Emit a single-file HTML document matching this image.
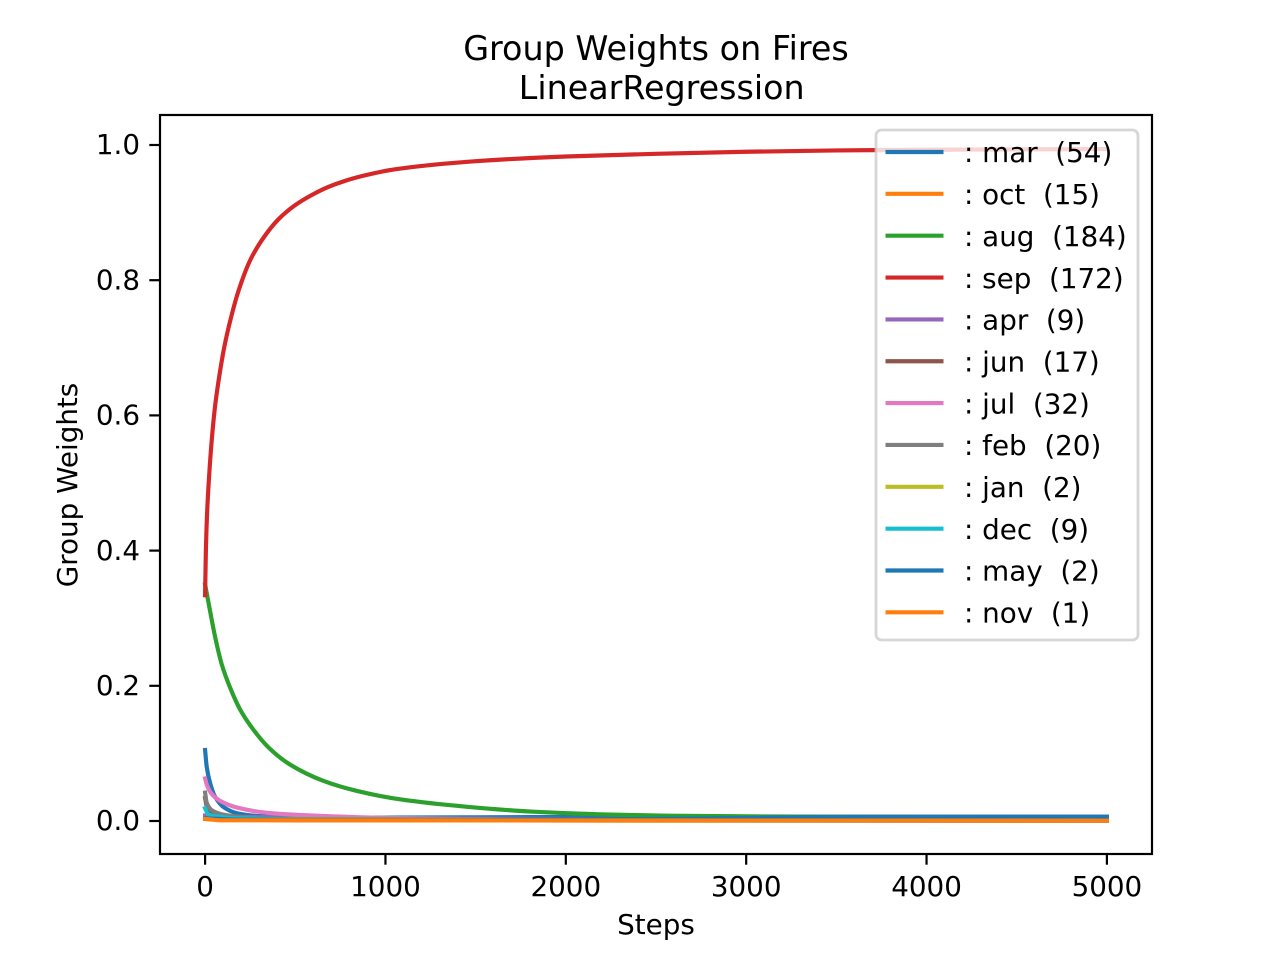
<!DOCTYPE html>
<html>
<head>
<meta charset="utf-8">
<title>Group Weights on Fires</title>
<style>
html,body{margin:0;padding:0;background:#fff;width:1280px;height:960px;overflow:hidden}
svg{display:block}
text{font-family:"DejaVu Sans","Liberation Sans",sans-serif;fill:#000;white-space:pre}
</style>
</head>
<body>
<svg id="chart" width="1280" height="960" viewBox="0 0 1280 960" xmlns="http://www.w3.org/2000/svg">
  <rect x="0" y="0" width="1280" height="960" fill="#fff"/>
  <text x="656" y="60" font-size="33.38" text-anchor="middle">Group Weights on Fires</text>
  <text x="661.7" y="99" font-size="33.33" text-anchor="middle">LinearRegression</text>
  <text x="656" y="934" font-size="27.78" text-anchor="middle">Steps</text>
  <text transform="translate(77,485) rotate(-90)" font-size="27.78" text-anchor="middle">Group Weights</text>
  <g id="series-layer"></g>
  <rect x="160" y="115" width="992" height="739" fill="none" stroke="#000" stroke-width="2.2"/>
  <g id="tick-layer"></g>
  <g id="legend-layer">
    <rect x="876" y="130" width="262" height="510" rx="5.5" ry="5.5" fill="#fff" fill-opacity="0.8" stroke="#ccc" stroke-opacity="0.8" stroke-width="2.78"/>
  </g>
</svg>
<script>
const xTicks = [0, 1000, 2000, 3000, 4000, 5000];
const yTicks = [0.0, 0.2, 0.4, 0.6, 0.8, 1.0];
const yTickLabels = ["0.0", "0.2", "0.4", "0.6", "0.8", "1.0"];

const seriesNames = ["mar", "oct", "aug", "sep", "apr", "jun", "jul", "feb", "jan", "dec", "may", "nov"];
const seriesCounts = [54, 15, 184, 172, 9, 17, 32, 20, 2, 9, 2, 1];
const seriesColors = ["#1f77b4", "#ff7f0e", "#2ca02c", "#d62728", "#9467bd", "#8c564b", "#e377c2", "#7f7f7f", "#bcbd22", "#17becf", "#1f77b4", "#ff7f0e"];

const marSteps = [0, 9, 28, 55, 111, 183, 286, 600, 1500, 2500, 5000];
const marValues = [0.105, 0.08, 0.056, 0.036, 0.019, 0.011, 0.0075, 0.0048, 0.0055, 0.0062, 0.0064];
const octSteps = [0, 100, 500, 5000];
const octValues = [0.005, 0.003, 0.002, 0.001];
const augSteps = [0, 9, 28, 55, 92, 139, 194, 268, 351, 471, 655, 842, 1081, 1452, 1818, 2190, 2561, 2927, 3298, 5000];
const augValues = [0.35, 0.337, 0.31, 0.273, 0.232, 0.197, 0.165, 0.135, 0.109, 0.0835, 0.0595, 0.0445, 0.032, 0.021, 0.0138, 0.0099, 0.0078, 0.007, 0.0065, 0.0055];
const sepSteps = [0, 4, 11, 22, 37, 55, 78, 107, 144, 185, 249, 314, 406, 499, 591, 683, 776, 868, 1053, 1500, 2000, 2500, 3000, 3500, 4000, 5000];
const sepValues = [0.334, 0.396, 0.455, 0.509, 0.564, 0.613, 0.657, 0.702, 0.745, 0.784, 0.829, 0.859, 0.89, 0.911, 0.926, 0.938, 0.947, 0.954, 0.964, 0.976, 0.983, 0.987, 0.99, 0.992, 0.993, 0.994];
const aprSteps = [0, 200, 1000, 2000, 5000];
const aprValues = [0.008, 0.006, 0.0045, 0.003, 0.002];
const junSteps = [0, 9, 37, 92, 183, 500, 5000];
const junValues = [0.034, 0.022, 0.012, 0.006, 0.003, 0.001, 0.0005];
const julSteps = [0, 9, 37, 92, 183, 332, 471, 655, 842, 1136, 2000, 5000];
const julValues = [0.063, 0.054, 0.04, 0.0285, 0.0195, 0.0125, 0.0096, 0.0074, 0.0056, 0.004, 0.0015, 0.0005];
const febSteps = [0, 9, 37, 92, 183, 300, 600, 1500, 5000];
const febValues = [0.042, 0.027, 0.016, 0.01, 0.0064, 0.004, 0.002, 0.0015, 0.001];
const janSteps = [0, 5000];
const janValues = [0.003, 0.001];
const decSteps = [0, 17, 72, 183, 500, 1000, 5000];
const decValues = [0.019, 0.01, 0.0064, 0.004, 0.002, 0.001, 0.0005];
const maySteps = [0, 200, 1500, 2500, 3000, 3400, 5000];
const mayValues = [0.004, 0.002, 0.002, 0.003, 0.0045, 0.006, 0.0064];
const novSteps = [0, 100, 5000];
const novValues = [0.003, 0.001, 0.0005];

const seriesSteps = [marSteps, octSteps, augSteps, sepSteps, aprSteps, junSteps, julSteps, febSteps, janSteps, decSteps, maySteps, novSteps];
const seriesValues = [marValues, octValues, augValues, sepValues, aprValues, junValues, julValues, febValues, janValues, decValues, mayValues, novValues];

const NS = "http://www.w3.org/2000/svg";
function xScale(step) { return 205.1 + step * 0.18036; }
function yScale(value) { return 821 - value * 676; }
function make(tag, attrs, parent) {
  const el = document.createElementNS(NS, tag);
  for (const k in attrs) el.setAttribute(k, attrs[k]);
  parent.appendChild(el);
  return el;
}
/* Monotone cubic curve through the read points, so the sparse samples draw as a smooth line. */
function smoothPath(xs, ys) {
  const n = xs.length;
  const d = [];
  const m = [];
  for (let i = 0; i < n - 1; i++) d.push((ys[i + 1] - ys[i]) / (xs[i + 1] - xs[i]));
  m[0] = d[0];
  m[n - 1] = d[n - 2];
  for (let i = 1; i < n - 1; i++) {
    if (d[i - 1] * d[i] <= 0) { m[i] = 0; continue; }
    const h0 = xs[i] - xs[i - 1];
    const h1 = xs[i + 1] - xs[i];
    const w0 = 2 * h1 + h0;
    const w1 = h1 + 2 * h0;
    m[i] = (w0 + w1) / (w0 / d[i - 1] + w1 / d[i]);
  }
  let p = "M" + xs[0].toFixed(2) + " " + ys[0].toFixed(2);
  for (let i = 0; i < n - 1; i++) {
    const h = (xs[i + 1] - xs[i]) / 3;
    p += "C" + (xs[i] + h).toFixed(2) + " " + (ys[i] + m[i] * h).toFixed(2) + " " +
      (xs[i + 1] - h).toFixed(2) + " " + (ys[i + 1] - m[i + 1] * h).toFixed(2) + " " +
      xs[i + 1].toFixed(2) + " " + ys[i + 1].toFixed(2);
  }
  return p;
}

const seriesLayer = document.getElementById("series-layer");
seriesNames.forEach(function (name, i) {
  const xs = seriesSteps[i].map(xScale);
  const ys = seriesValues[i].map(yScale);
  const line = make("path", { d: smoothPath(xs, ys), fill: "none", stroke: seriesColors[i], "stroke-width": 4.17, "stroke-linejoin": "round", "stroke-linecap": "square" }, seriesLayer);
  
  
});

const tickLayer = document.getElementById("tick-layer");
xTicks.forEach(function (t) {
  const x = xScale(t);
  const mark = make("line", { x1: x, x2: x, y1: 854, y2: 864.7, stroke: "#000", "stroke-width": 2.2 }, tickLayer);
  
  
  const label = make("text", { x: x, y: 896, "font-size": 27.78, "text-anchor": "middle" }, tickLayer);
  
  
  label.textContent = String(t);
});
yTicks.forEach(function (t, i) {
  const y = yScale(t);
  const mark = make("line", { x1: 149.3, x2: 160, y1: y, y2: y, stroke: "#000", "stroke-width": 2.2 }, tickLayer);
  
  
  const label = make("text", { x: 140, y: y + 9.2, "font-size": 27.78, "text-anchor": "end" }, tickLayer);
  
  
  label.textContent = yTickLabels[i];
});

const legendLayer = document.getElementById("legend-layer");
seriesNames.forEach(function (name, i) {
  const y = 152 + i * 41.85;
  const handle = make("line", { x1: 885.5, x2: 943.5, y1: y, y2: y, stroke: seriesColors[i], "stroke-width": 4.17 }, legendLayer);
  
  
  const label = make("text", { x: 964, y: y + 10.2, "font-size": 27.78 }, legendLayer);
  
  
  label.setAttributeNS("http://www.w3.org/XML/1998/namespace", "xml:space", "preserve");
  label.textContent = ": " + name + "  (" + seriesCounts[i] + ")";
});
</script>
</body>
</html>
